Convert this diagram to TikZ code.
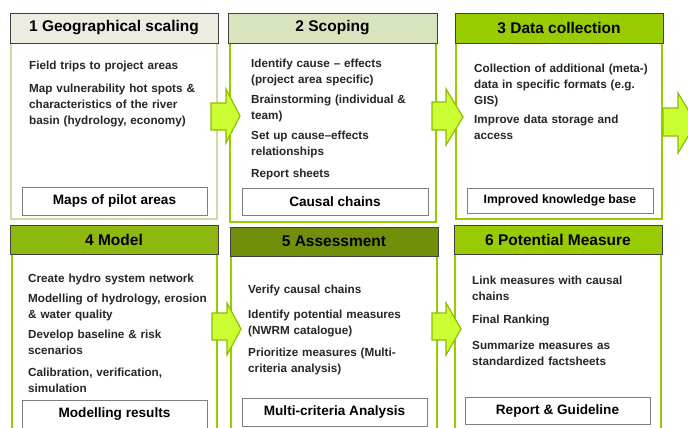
\documentclass[tikz,border=0pt]{standalone}
\usepackage{fontspec}
\setmainfont{Liberation Sans}
\definecolor{hdrone}{HTML}{EEECE1}
\definecolor{bodyone}{HTML}{D8D6A8}
\definecolor{hdrtwo}{HTML}{D7E4BD}
\definecolor{lime}{HTML}{99CC00}
\definecolor{hdrfour}{HTML}{8DB80F}
\definecolor{hdrfive}{HTML}{728F0C}
\definecolor{arrowfill}{HTML}{CCFF33}
\definecolor{arrowline}{HTML}{8CBF00}
\definecolor{txt}{HTML}{262626}
\definecolor{hdrline}{HTML}{404040}
\definecolor{footline}{HTML}{7F7F7F}
\tikzset{
  hdr/.style={draw=hdrline, line width=0.8pt, rectangle, inner sep=0pt,
    font=\fontsize{15.5}{18}\selectfont\bfseries, text=black},
  bodybox/.style={line width=1.5pt},
  foot/.style={draw=footline, line width=1pt, fill=white, rectangle, inner sep=0pt,
    font=\fontsize{13.6}{16}\selectfont\bfseries, text=black},
  items/.style={anchor=north west, inner sep=0pt, align=left, text width=205pt,
    font=\fontsize{11.7}{16}\selectfont\bfseries, text=txt},
  blockarrow/.style={fill=arrowfill, draw=arrowline, line width=1.2pt, line join=miter}
}
\begin{document}
\begin{tikzpicture}[x=1pt, y=-1pt]
\useasboundingbox (0,0) rectangle (688,428);
\clip (0,0) rectangle (688,428);
\fill[white] (0,0) rectangle (688,428);

% bodies
\draw[bodybox, draw=bodyone] (11,43) rectangle (217,219);
\draw[bodybox, draw=lime] (230,43) rectangle (436,222);
\draw[bodybox, draw=lime] (456,43) rectangle (662,219);
\draw[bodybox, draw=lime] (12,254) rectangle (217,440);
\draw[bodybox, draw=lime] (231,256) rectangle (437,440);
\draw[bodybox, draw=lime] (455,254) rectangle (661,440);

% headers
\node[hdr, fill=hdrone, minimum width=208pt, minimum height=30pt] (h1) at (114,28) {1 Geographical scaling};
\node[hdr, fill=hdrtwo, minimum width=209pt, minimum height=30pt] (h2) at (332.5,28) {2 Scoping};
\node[hdr, fill=lime, minimum width=208pt, minimum height=30pt] (h3) at (559,28) {3 Data collection};
\node[hdr, fill=hdrfour, minimum width=208pt, minimum height=29pt] (h4) at (114,239.5) {4 Model};
\node[hdr, fill=hdrfive, minimum width=208pt, minimum height=29pt] (h5) at (334,241.5) {5 Assessment};
\node[hdr, fill=lime, minimum width=208pt, minimum height=29pt] (h6) at (558,239.5) {6 Potential Measure};

% item texts
\node[items] (t1) at (29,57.8) {\strut Field trips to project areas\\[7pt]Map vulnerability hot spots \&\\characteristics of the river\\basin (hydrology, economy)};
\node[items] (t2) at (251,55.8) {\strut Identify cause – effects\\(project area specific)\\[4pt]Brainstorming (individual \&\\team)\\[4pt]Set up cause–effects\\relationships\\[6pt]Report sheets};
\node[items] (t3) at (474,60.8) {\strut Collection of additional (meta-)\\data in specific formats (e.g.\\GIS)\\[3pt]Improve data storage and\\access};
\node[items] (t4) at (28,270.8) {\strut Create hydro system network\\[4pt]Modelling of hydrology, erosion\\\& water quality\\[4pt]Develop baseline \& risk\\scenarios\\[6pt]Calibration, verification,\\simulation};
\node[items] (t5) at (248,281.8) {\strut Verify causal chains\\[9pt]Identify potential measures\\(NWRM catalogue)\\[6pt]Prioritize measures (Multi-\\criteria analysis)};
\node[items] (t6) at (472,272.8) {\strut Link measures with causal\\chains\\[7pt]Final Ranking\\[10pt]Summarize measures as\\standardized factsheets};

% footers
\node[foot, minimum width=185pt, minimum height=28pt] (f1) at (114.5,201) {Maps of pilot areas};
\node[foot, minimum width=186pt, minimum height=27pt] (f2) at (335,201.5) {Causal chains};
\node[foot, minimum width=186pt, minimum height=25pt, font=\fontsize{12.2}{14}\selectfont\bfseries] (f3) at (560,200.5) {Improved knowledge base};
\node[foot, minimum width=185pt, minimum height=28pt] (f4) at (114.5,414) {Modelling results};
\node[foot, minimum width=185pt, minimum height=28pt] (f5) at (334.5,412) {Multi-criteria Analysis};
\node[foot, minimum width=185pt, minimum height=27pt] (f6) at (557.5,410.5) {Report \& Guideline};

% block arrows
\draw[blockarrow] (211,103) -- (226,103) -- (226,89) -- (240,116) -- (226,143) -- (226,130) -- (211,130) -- cycle;
\draw[blockarrow] (432,102) -- (446,102) -- (446,89) -- (463,117) -- (446,145) -- (446,130) -- (432,130) -- cycle;
\draw[blockarrow] (663,108) -- (678,108) -- (678,93) -- (696,123) -- (678,153) -- (678,136) -- (663,136) -- cycle;
\draw[blockarrow] (212,313) -- (227,313) -- (227,303) -- (241,329) -- (227,355) -- (227,340) -- (212,340) -- cycle;
\draw[blockarrow] (432,313) -- (446,313) -- (446,303) -- (461,329) -- (446,355) -- (446,340) -- (432,340) -- cycle;
\end{tikzpicture}
\end{document}
